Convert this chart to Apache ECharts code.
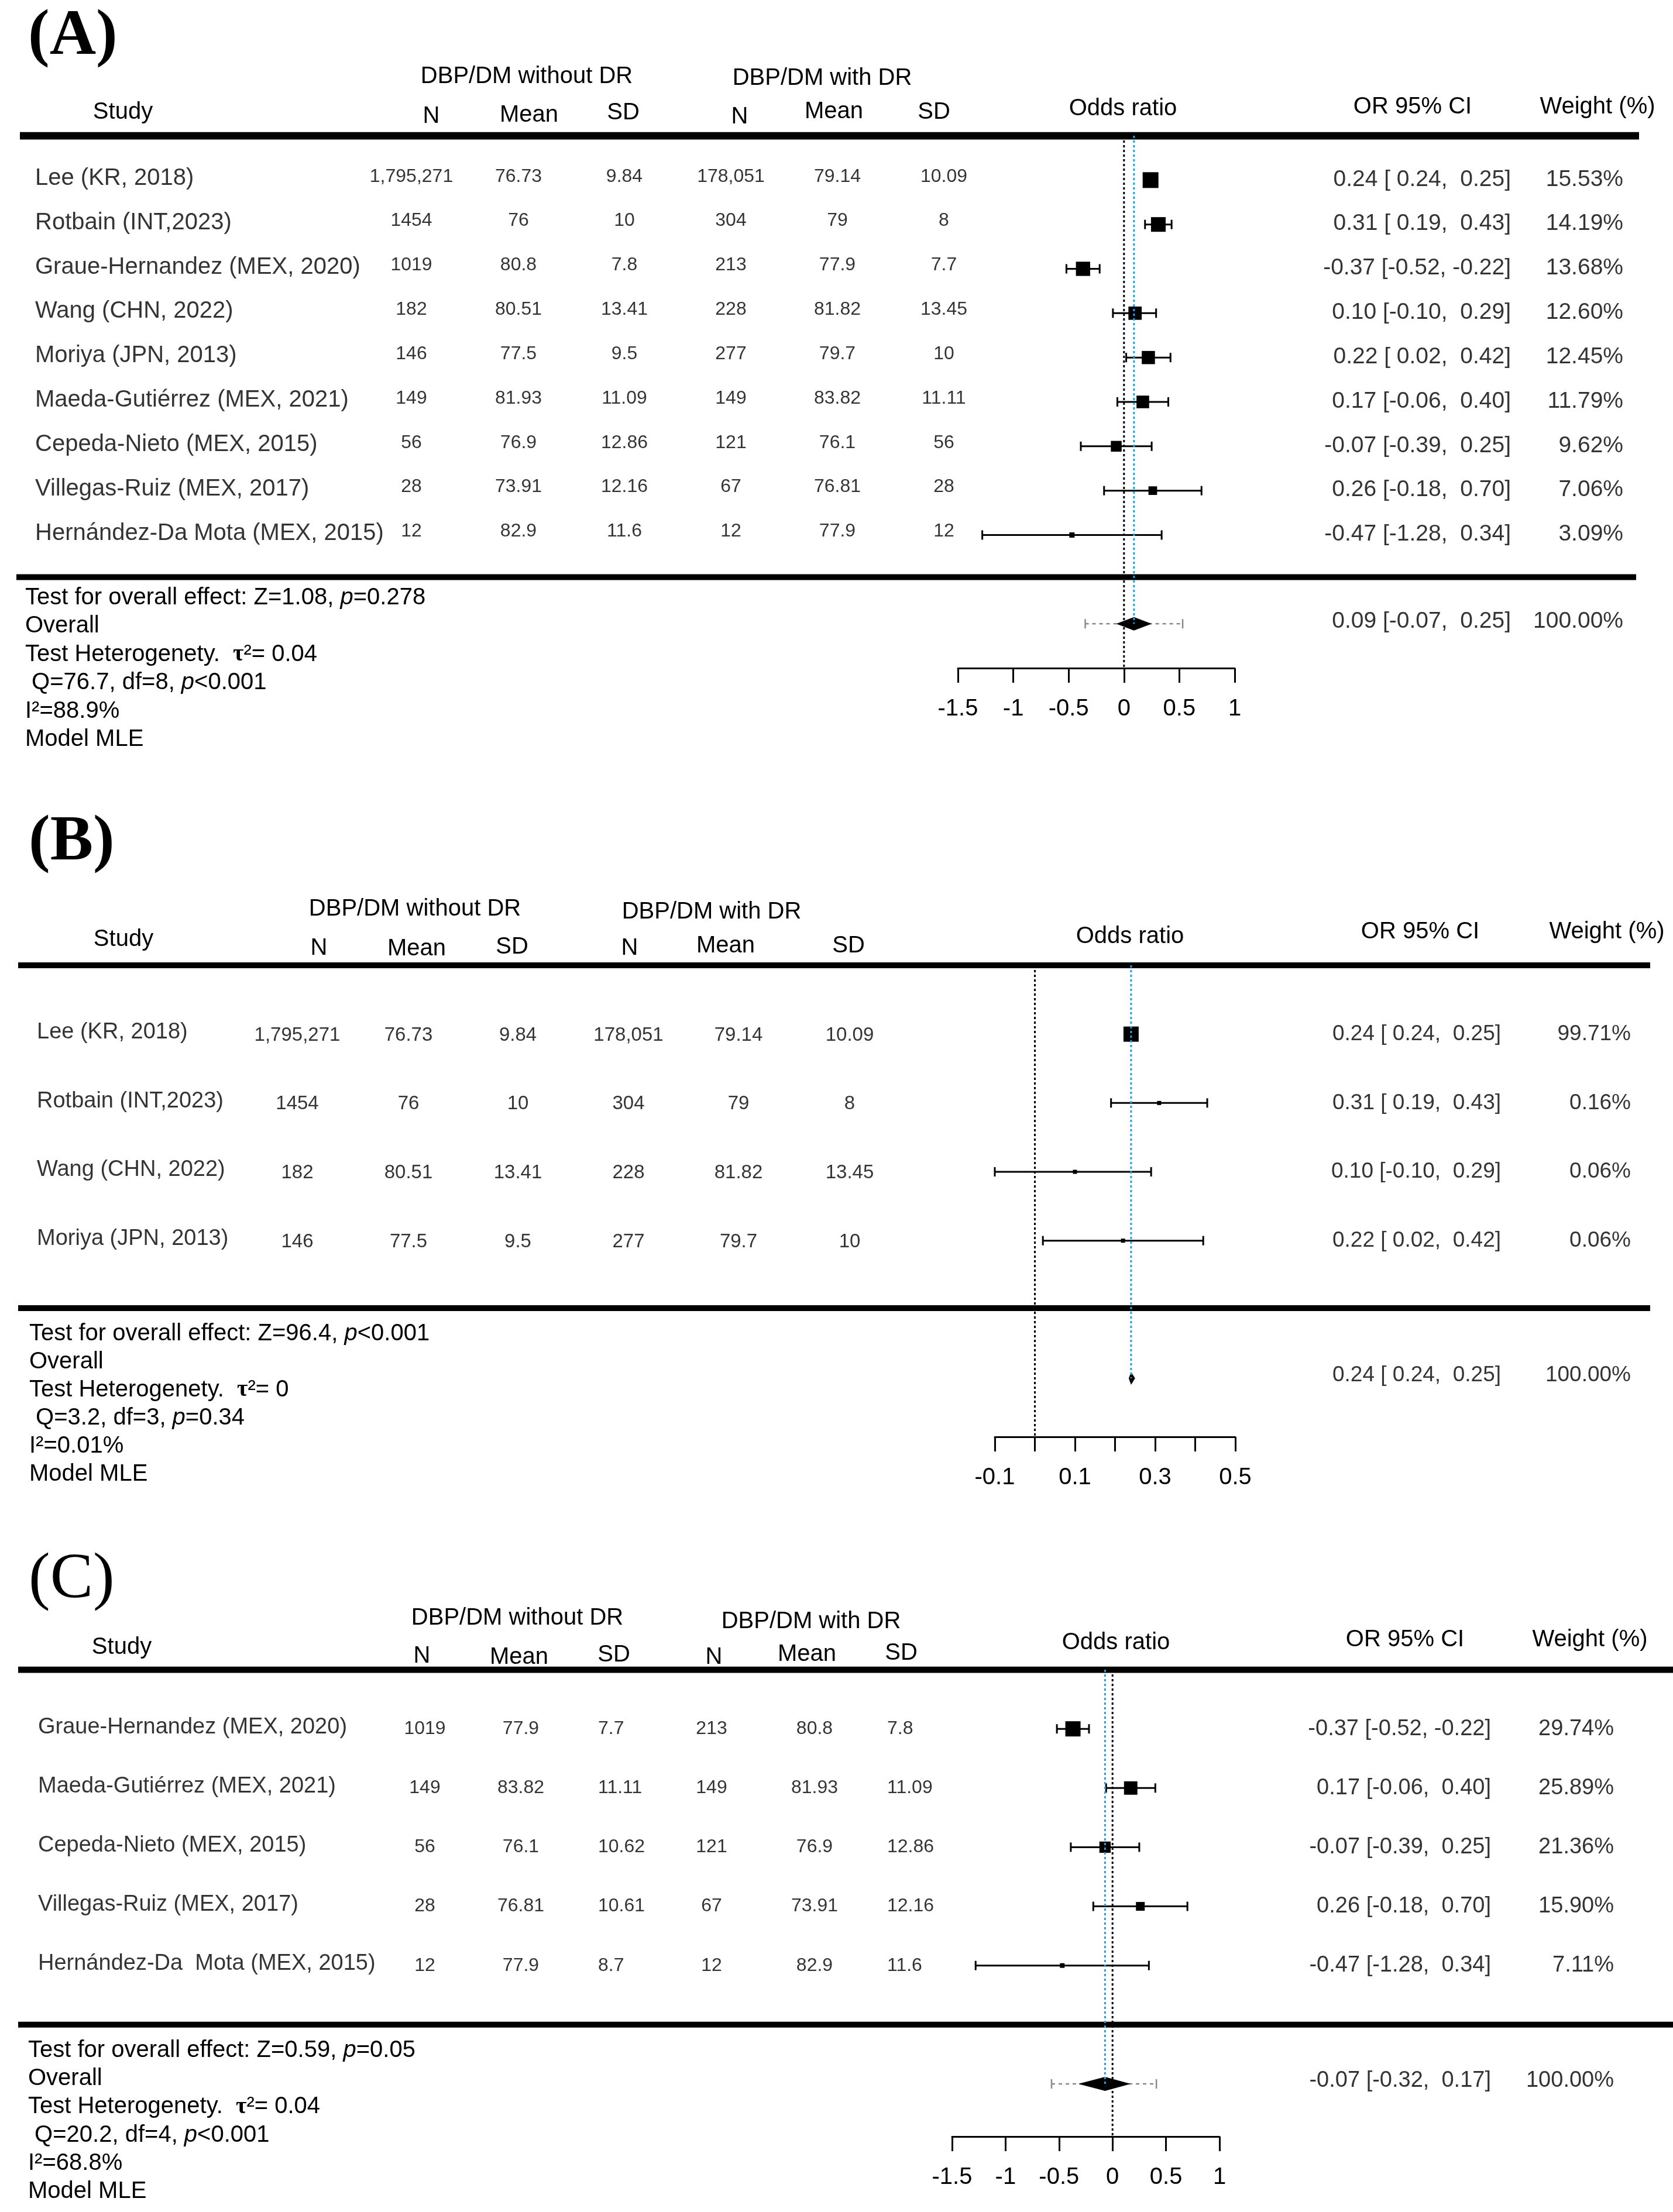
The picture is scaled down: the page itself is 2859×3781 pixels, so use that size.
<!DOCTYPE html>
<html><head><meta charset="utf-8">
<script src="https://cdn.jsdelivr.net/npm/echarts@6/dist/echarts.min.js"></script>
<style>html,body{margin:0;padding:0;background:#fff}#c{width:2859px;height:3781px}</style>
</head><body><div id="c"></div>
<script>
// ---------------- DATA ----------------
const headerLabels = ['DBP/DM without DR','DBP/DM with DR','Study','N','Mean','SD','N','Mean','SD','Odds ratio','OR 95% CI','Weight (%)'];

// Panel A
const studiesA = ['Lee (KR, 2018)','Rotbain (INT,2023)','Graue-Hernandez (MEX, 2020)','Wang (CHN, 2022)','Moriya (JPN, 2013)','Maeda-Gutiérrez (MEX, 2021)','Cepeda-Nieto (MEX, 2015)','Villegas-Ruiz (MEX, 2017)','Hernández-Da Mota (MEX, 2015)'];
const nNoDR_A = [1795271,1454,1019,182,146,149,56,28,12];
const meanNoDR_A = [76.73,76,80.8,80.51,77.5,81.93,76.9,73.91,82.9];
const sdNoDR_A = [9.84,10,7.8,13.41,9.5,11.09,12.86,12.16,11.6];
const nDR_A = [178051,304,213,228,277,149,121,67,12];
const meanDR_A = [79.14,79,77.9,81.82,79.7,83.82,76.1,76.81,77.9];
const sdDR_A = [10.09,8,7.7,13.45,10,11.11,56,28,12];
const orA = [0.24,0.31,-0.37,0.10,0.22,0.17,-0.07,0.26,-0.47];
const loA = [0.24,0.19,-0.52,-0.10,0.02,-0.06,-0.39,-0.18,-1.28];
const hiA = [0.25,0.43,-0.22,0.29,0.42,0.40,0.25,0.70,0.34];
const weightA = [15.53,14.19,13.68,12.60,12.45,11.79,9.62,7.06,3.09];
const overallA = [0.09,-0.07,0.25];
const overallWeightA = 100;
const predictionA = [-0.35,0.53];
const ticksA = [-1.5,-1,-0.5,0,0.5,1];
const tickLabelsA = ['-1.5','-1','-0.5','0','0.5','1'];
const footerA = ['Test for overall effect: Z=1.08, {i|p}=0.278','Overall','Test Heterogenety.  {b|τ}²= 0.04',' Q=76.7, df=8, {i|p}<0.001','I²=88.9%','Model MLE'];

// Panel B
const studiesB = ['Lee (KR, 2018)','Rotbain (INT,2023)','Wang (CHN, 2022)','Moriya (JPN, 2013)'];
const nNoDR_B = [1795271,1454,182,146];
const meanNoDR_B = [76.73,76,80.51,77.5];
const sdNoDR_B = [9.84,10,13.41,9.5];
const nDR_B = [178051,304,228,277];
const meanDR_B = [79.14,79,81.82,79.7];
const sdDR_B = [10.09,8,13.45,10];
const orB = [0.24,0.31,0.10,0.22];
const loB = [0.24,0.19,-0.10,0.02];
const hiB = [0.25,0.43,0.29,0.42];
const weightB = [99.71,0.16,0.06,0.06];
const overallB = [0.24,0.24,0.25];
const overallWeightB = 100;
const predictionB = null;
const ticksB = [-0.1,0,0.1,0.2,0.3,0.4,0.5];
const tickLabelsB = ['-0.1','','0.1','','0.3','','0.5'];
const footerB = ['Test for overall effect: Z=96.4, {i|p}<0.001','Overall','Test Heterogenety.  {b|τ}²= 0',' Q=3.2, df=3, {i|p}=0.34','I²=0.01%','Model MLE'];

// Panel C
const studiesC = ['Graue-Hernandez (MEX, 2020)','Maeda-Gutiérrez (MEX, 2021)','Cepeda-Nieto (MEX, 2015)','Villegas-Ruiz (MEX, 2017)','Hernández-Da  Mota (MEX, 2015)'];
const nNoDR_C = [1019,149,56,28,12];
const meanNoDR_C = [77.9,83.82,76.1,76.81,77.9];
const sdNoDR_C = [7.7,11.11,10.62,10.61,8.7];
const nDR_C = [213,149,121,67,12];
const meanDR_C = [80.8,81.93,76.9,73.91,82.9];
const sdDR_C = [7.8,11.09,12.86,12.16,11.6];
const orC = [-0.37,0.17,-0.07,0.26,-0.47];
const loC = [-0.52,-0.06,-0.39,-0.18,-1.28];
const hiC = [-0.22,0.40,0.25,0.70,0.34];
const weightC = [29.74,25.89,21.36,15.90,7.11];
const overallC = [-0.07,-0.32,0.17];
const overallWeightC = 100;
const predictionC = [-0.57,0.41];
const ticksC = [-1.5,-1,-0.5,0,0.5,1];
const tickLabelsC = ['-1.5','-1','-0.5','0','0.5','1'];
const footerC = ['Test for overall effect: Z=0.59, {i|p}=0.05','Overall','Test Heterogenety.  {b|τ}²= 0.04',' Q=20.2, df=4, {i|p}<0.001','I²=68.8%','Model MLE'];

// ---------------- LAYOUT ----------------
const FONT = '"Liberation Sans", Arial, Helvetica, sans-serif';
const SERIF = '"Liberation Serif", "Times New Roman", serif';
const BLUE = '#23a0e6';

const panels = [
 { label:'(A)', bold:true, studies:studiesA, n1:nNoDR_A, m1:meanNoDR_A, s1:sdNoDR_A, n2:nDR_A, m2:meanDR_A, s2:sdDR_A,
   or:orA, lo:loA, hi:hiA, w:weightA, overall:overallA, ow:overallWeightA, pred:predictionA, ticks:ticksA, tickLabels:tickLabelsA, footer:footerA,
   L:{ top:232, bottom:1142, ymax:11, botBar:8.95, ovIdx:10, fLeft:1637, fWidth:473,
       bar1:[34,2801,13], bar2:[28,2796,10],
       cols:[[60,'left'],[703,'center'],[886,'center'],[1067,'center'],[1249,'center'],[1431,'center'],[1613,'center'],[2582,'right'],[2774,'right']],
       nameFs:40, numFs:32, orFs:39, nameDy:-3, numDy:-6, orDy:-1, ovDy:-4, sq:[9,27], dH:11.5,
       labelPos:[48,64],
       hdr:[[900,131],[1405,134],[210,192],[737,199],[904,197],[1065,193],[1264,200],[1425,191],[1596,192],[1919,186],[2414,183],[2730,183]],
       fx:43, fy:1022, fdy:48.4 } },
 { label:'(B)', bold:true, studies:studiesB, n1:nNoDR_B, m1:meanNoDR_B, s1:sdNoDR_B, n2:nDR_B, m2:meanDR_B, s2:sdDR_B,
   or:orB, lo:loB, hi:hiB, w:weightB, overall:overallB, ow:overallWeightB, pred:predictionB, ticks:ticksB, tickLabels:tickLabelsB, footer:footerB,
   L:{ top:1650, bottom:2456, ymax:5.85, botBar:3.98, ovIdx:5, fLeft:1700, fWidth:411,
       bar1:[31,2820,10], bar2:[31,2820,10],
       cols:[[63,'left'],[508,'center'],[698,'center'],[885,'center'],[1074,'center'],[1262,'center'],[1452,'center'],[2565,'right'],[2787,'right']],
       nameFs:38, numFs:33, orFs:37, nameDy:-3, numDy:2, orDy:0, ovDy:-5, sq:[7,26], dH:11,
       labelPos:[49,1441],
       hdr:[[709,1554],[1216,1559],[211,1606],[545,1621],[712,1622],[875,1619],[1076,1621],[1240,1617],[1450,1617],[1931,1601],[2427,1593],[2746,1593]],
       fx:50, fy:2280, fdy:48 } },
 { label:'(C)', bold:false, studies:studiesC, n1:nNoDR_C, m1:meanNoDR_C, s1:sdNoDR_C, n2:nDR_C, m2:meanDR_C, s2:sdDR_C,
   or:orC, lo:loC, hi:hiC, w:weightC, overall:overallC, ow:overallWeightC, pred:predictionC, ticks:ticksC, tickLabels:tickLabelsC, footer:footerC,
   L:{ top:2854, bottom:3652, ymax:6.89, botBar:5.0, ovIdx:6, fLeft:1627, fWidth:457,
       bar1:[31,2859,11], bar2:[31,2859,10],
       cols:[[65,'left'],[726,'center'],[890,'center'],[1022,'left'],[1216,'center'],[1392,'center'],[1516,'left'],[2548,'right'],[2758,'right']],
       nameFs:38, numFs:32, orFs:38, nameDy:-3, numDy:0, orDy:0, ovDy:-5, sq:[8,26], dH:12,
       labelPos:[49,2701],
       hdr:[[884,2766],[1386,2772],[208,2816],[721,2831],[887,2833],[1049,2829],[1220,2833],[1379,2828],[1540,2826],[1907,2808],[2401,2803],[2717,2803]],
       fx:48, fy:3505, fdy:48.2 } }
];

// ---------------- HELPERS ----------------
const fmtN = n => n >= 10000 ? n.toLocaleString('en-US') : String(n);
const fmtP = v => (v < 0 ? '' : ' ') + v.toFixed(2);
const fmtCI = (e, l, h) => e.toFixed(2) + ' [' + fmtP(l) + ', ' + fmtP(h) + ']';
const fmtW = w => w.toFixed(2) + '%';

const grids = [], xAxes = [], yAxes = [], series = [], graphics = [];

panels.forEach((P, p) => {
  const L = P.L;
  const tIdx = 2 * p, fIdx = 2 * p + 1;
  const height = L.bottom - L.top;
  grids.push({ left: 0, width: 2859, top: L.top, height: height });
  grids.push({ left: L.fLeft, width: L.fWidth, top: L.top, height: height });
  xAxes.push({ type: 'value', gridIndex: tIdx, min: 0, max: 2859, show: false });
  yAxes.push({ type: 'value', gridIndex: tIdx, min: -1, max: L.ymax, inverse: true, show: false });
  const step = P.ticks[1] - P.ticks[0];
  xAxes.push({
    type: 'value', gridIndex: fIdx, min: P.ticks[0], max: P.ticks[P.ticks.length - 1], interval: step,
    axisLine: { show: true, onZero: false, lineStyle: { color: '#000', width: 3 } },
    axisTick: { show: true, length: 25, lineStyle: { color: '#000', width: 3 } },
    splitLine: { show: false },
    axisLabel: {
      show: true, margin: 50, fontSize: 40, fontFamily: FONT, color: '#000',
      formatter: v => {
        const k = P.ticks.findIndex(t => Math.abs(t - v) < 1e-6);
        return k >= 0 ? P.tickLabels[k] : '';
      }
    }
  });
  yAxes.push({ type: 'value', gridIndex: fIdx, min: -1, max: L.ymax, inverse: true, show: false });

  // table text columns
  const colData = [
    P.studies, P.n1.map(fmtN), P.m1.map(String), P.s1.map(String),
    P.n2.map(fmtN), P.m2.map(String), P.s2.map(String),
    P.or.map((e, i) => fmtCI(e, P.lo[i], P.hi[i])), P.w.map(fmtW)
  ];
  colData.forEach((vals, c) => {
    const [cx, al] = L.cols[c];
    const fs = c === 0 ? L.nameFs : (c >= 7 ? L.orFs : L.numFs);
    const dy = c === 0 ? L.nameDy : (c >= 7 ? L.orDy : L.numDy);
    series.push({
      type: 'scatter', xAxisIndex: tIdx, yAxisIndex: tIdx, silent: true, symbolSize: 1,
      itemStyle: { color: 'transparent' },
      data: vals.map((t, i) => ({ name: t, value: [cx, i] })),
      label: { show: true, position: 'inside', align: al, verticalAlign: 'middle', offset: [0, dy],
               fontSize: fs, fontFamily: FONT, color: '#000', formatter: q => q.name }
    });
  });
  // overall row text
  series.push({
    type: 'scatter', xAxisIndex: tIdx, yAxisIndex: tIdx, silent: true, symbolSize: 1,
    itemStyle: { color: 'transparent' },
    data: [
      { name: fmtCI(P.overall[0], P.overall[1], P.overall[2]), value: [L.cols[7][0], L.ovIdx] },
      { name: fmtW(P.ow), value: [L.cols[8][0], L.ovIdx] }
    ],
    label: { show: true, position: 'inside', align: 'right', verticalAlign: 'middle', offset: [0, L.ovDy],
             fontSize: L.orFs, fontFamily: FONT, color: '#000', formatter: q => q.name }
  });
  // horizontal rules
  series.push({ type: 'line', xAxisIndex: tIdx, yAxisIndex: tIdx, silent: true, symbol: 'none',
    data: [[L.bar1[0], -1], [L.bar1[1], -1]], lineStyle: { color: '#000', width: L.bar1[2] }, z: 3 });
  series.push({ type: 'line', xAxisIndex: tIdx, yAxisIndex: tIdx, silent: true, symbol: 'none',
    data: [[L.bar2[0], L.botBar], [L.bar2[1], L.botBar]], lineStyle: { color: '#000', width: L.bar2[2] }, z: 3 });

  // study marks
  const wMin = Math.min(...P.w), wMax = Math.max(...P.w);
  const sizeOf = w => L.sq[0] + (w - wMin) / (wMax - wMin) * (L.sq[1] - L.sq[0]);
  series.push({
    type: 'custom', xAxisIndex: fIdx, yAxisIndex: fIdx, silent: true, z: 4,
    data: P.or.map((e, i) => [i, e, P.lo[i], P.hi[i], P.w[i]]),
    encode: { x: [1, 2, 3], y: 0 },
    renderItem: (params, api) => {
      const idx = api.value(0);
      const c = api.coord([api.value(1), idx]);
      const l = api.coord([api.value(2), idx]);
      const h = api.coord([api.value(3), idx]);
      const s = sizeOf(api.value(4));
      const st = { stroke: '#000', lineWidth: 3 };
      return { type: 'group', children: [
        { type: 'line', shape: { x1: l[0], y1: l[1], x2: h[0], y2: h[1] }, style: st },
        { type: 'line', shape: { x1: l[0], y1: l[1] - 8, x2: l[0], y2: l[1] + 8 }, style: st },
        { type: 'line', shape: { x1: h[0], y1: h[1] - 8, x2: h[0], y2: h[1] + 8 }, style: st },
        { type: 'rect', shape: { x: c[0] - s / 2, y: c[1] - s / 2, width: s, height: s }, style: { fill: '#000' } }
      ]};
    }
  });
  // overall diamond (+ prediction interval)
  series.push({
    type: 'custom', xAxisIndex: fIdx, yAxisIndex: fIdx, silent: true, z: 4,
    data: [[L.ovIdx, P.overall[0], P.overall[1], P.overall[2]]],
    encode: { x: [1, 2, 3], y: 0 },
    renderItem: (params, api) => {
      const idx = api.value(0);
      const c = api.coord([api.value(1), idx]);
      let l = api.coord([api.value(2), idx])[0];
      let h = api.coord([api.value(3), idx])[0];
      l = Math.min(l, c[0] - 4); h = Math.max(h, c[0] + 4);
      const ch = [];
      if (P.pred) {
        const a = api.coord([P.pred[0], idx])[0], b = api.coord([P.pred[1], idx])[0];
        const gs = { stroke: '#8a8a8a', lineWidth: 2.5 };
        ch.push({ type: 'line', shape: { x1: a, y1: c[1], x2: b, y2: c[1] }, style: { stroke: '#8a8a8a', lineWidth: 2.5, lineDash: [6, 6] } });
        ch.push({ type: 'line', shape: { x1: a, y1: c[1] - 8, x2: a, y2: c[1] + 8 }, style: gs });
        ch.push({ type: 'line', shape: { x1: b, y1: c[1] - 8, x2: b, y2: c[1] + 8 }, style: gs });
      }
      ch.push({ type: 'polygon', shape: { points: [[l, c[1]], [c[0], c[1] - L.dH], [h, c[1]], [c[0], c[1] + L.dH]] }, style: { fill: '#000' } });
      return { type: 'group', children: ch };
    }
  });
  // reference lines
  series.push({ type: 'line', xAxisIndex: fIdx, yAxisIndex: fIdx, silent: true, symbol: 'none', z: 6,
    data: [[0, -1], [0, L.ymax]], lineStyle: { color: '#000', width: 3, type: [4, 4] } });
  series.push({ type: 'line', xAxisIndex: fIdx, yAxisIndex: fIdx, silent: true, symbol: 'none', z: 6,
    data: [[P.overall[0], -1], [P.overall[0], L.ovIdx]], lineStyle: { color: BLUE, width: 3, type: [4, 4] } });

  // panel label
  graphics.push({ type: 'text', x: L.labelPos[0], y: L.labelPos[1], silent: true,
    style: { text: P.label, fontSize: 110, fontFamily: SERIF, fontWeight: P.bold ? 'bold' : 'normal', fill: '#000',
             align: 'left', verticalAlign: 'middle', textAlign: 'left', textVerticalAlign: 'middle' } });
  // headers
  headerLabels.forEach((t, k) => {
    graphics.push({ type: 'text', x: L.hdr[k][0], y: L.hdr[k][1], silent: true,
      style: { text: t, fontSize: 40, fontFamily: FONT, fill: '#000',
               align: 'center', verticalAlign: 'middle', textAlign: 'center', textVerticalAlign: 'middle' } });
  });
  // footer
  P.footer.forEach((t, k) => {
    graphics.push({ type: 'text', x: L.fx, y: L.fy + k * L.fdy, silent: true,
      style: { text: t, fontSize: 40, fontFamily: FONT, fill: '#000',
               align: 'left', verticalAlign: 'middle', textAlign: 'left', textVerticalAlign: 'middle',
               rich: { i: { fontStyle: 'italic', fontSize: 40, fontFamily: FONT, fill: '#000' },
                       b: { fontWeight: 'bold', fontSize: 40, fontFamily: SERIF, fill: '#000' } } } });
  });
});

const chart = echarts.init(document.getElementById('c'), null, { renderer: 'canvas', width: 2859, height: 3781 });
chart.setOption({
  backgroundColor: '#fff',
  animation: false,
  grid: grids, xAxis: xAxes, yAxis: yAxes, series: series, graphic: graphics
});
</script>
</body></html>
